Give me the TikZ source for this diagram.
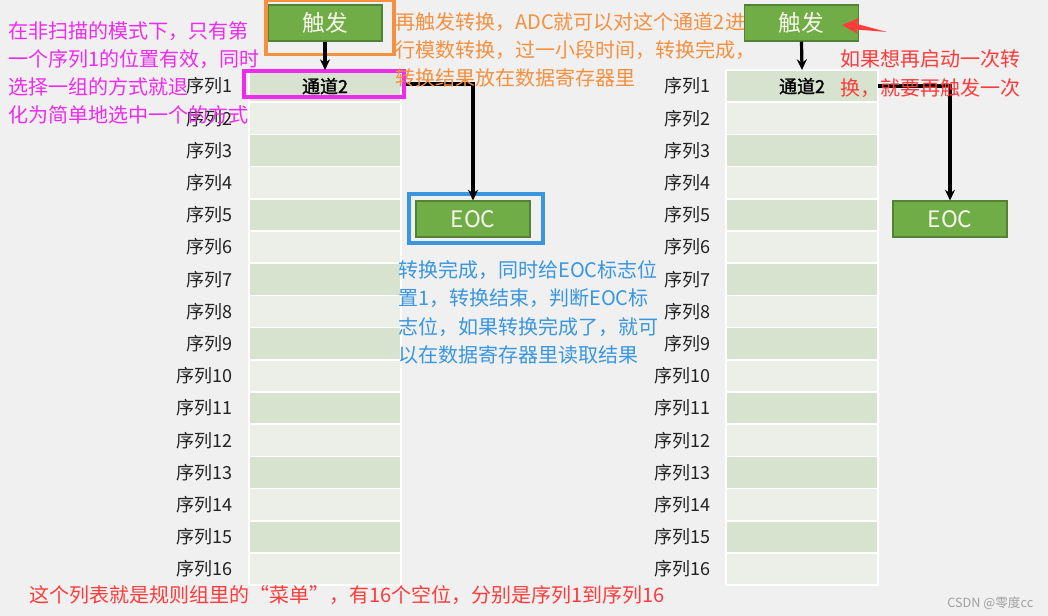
\documentclass[tikz,border=0pt]{standalone}
\usepackage{fontspec}
\setmainfont{Noto Sans CJK SC}[AutoFakeBold=1.5]
\usetikzlibrary{arrows.meta}
\definecolor{bg}{HTML}{F0F0F0}
\definecolor{rowD}{HTML}{D7E3CF}
\definecolor{rowL}{HTML}{EBEFE8}
\definecolor{gfill}{HTML}{70AD47}
\definecolor{gline}{HTML}{548235}
\definecolor{gtext}{HTML}{F7F7EC}
\definecolor{mag}{HTML}{EE2BEE}
\definecolor{orng}{HTML}{F5903F}
\definecolor{redc}{HTML}{FF3B3B}
\definecolor{blu}{HTML}{3A96DE}
\definecolor{lblc}{HTML}{222222}
\definecolor{wmark}{HTML}{A0A0A0}
\begin{document}
\begin{tikzpicture}[x=0.75pt,y=-0.75pt,
  cell/.style={draw=white, line width=1.1pt, minimum width=114pt, minimum height=24.15pt, inner sep=0pt, outer sep=0pt},
  lbl/.style={text=lblc, inner sep=0pt, font=\fontsize{13.5pt}{16pt}\selectfont},
  chan/.style={text=black, inner sep=0pt, font=\fontsize{13.5pt}{16pt}\selectfont\bfseries},
  gbox/.style={draw=gline, line width=0.8pt, fill=gfill, text=gtext, minimum height=27pt, inner sep=0pt},
  note/.style={inner sep=0pt, anchor=base west, font=\fontsize{15pt}{21pt}\selectfont},
  link/.style={color=black, line width=2.4pt, -{Stealth[length=8pt,width=7.5pt]}},
  frame/.style={line width=2.3pt, fill=none, inner sep=0pt}
]
\useasboundingbox[fill=bg] (0,0) rectangle (1048,616);

% tables
\foreach \i [evaluate=\i as \yy using 53.9+32.2*\i] in {1,...,16}{
  \ifodd\i\relax \def\rc{rowD}\else \def\rc{rowL}\fi
  \node[cell, fill=\rc] (L\i) at (325,\yy) {};
  \node[cell, fill=\rc] (R\i) at (802,\yy) {};
  \node[lbl, anchor=east] (lt\i) at (233,\yy) {序列\i};
  \node[lbl, anchor=east] (rt\i) at (711,\yy) {序列\i};
}
\node[chan] (chL) at (L1) {通道2};
\node[chan] (chR) at (R1) {通道2};

% trigger boxes
\node[gbox, minimum width=85.5pt, font=\fontsize{17pt}{20pt}\selectfont] (trigL) at (325,23) {触发};
\node[gbox, minimum width=85pt, font=\fontsize{17pt}{20pt}\selectfont] (trigR) at (801.5,23) {触发};
\node[frame, draw=orng, minimum width=96pt, minimum height=40pt] (ofr) at (330,27.5) {};

% EOC boxes
\node[gbox, minimum width=85.5pt, font=\fontsize{17pt}{20pt}\selectfont] (eocL) at (473,219) {EOC};
\node[gbox, minimum width=85.5pt, font=\fontsize{17pt}{20pt}\selectfont] (eocR) at (950,219) {EOC};
\node[frame, draw=blu, minimum width=100.5pt, minimum height=36.75pt] (bfr) at (476,218.5) {};

% highlight of row 1
\node[frame, draw=mag, minimum width=120pt, minimum height=19.5pt] (hl) at (324,84) {};

% connectors
\draw[link] (trigL.south) -- (L1.north);
\draw[link] (trigR.south) -- (R1.north);
\draw[link] (hl.east) -| (eocL.north);
\draw[link] (R1.east) -| (eocR.north);

% red pointer arrow
\fill[redc] (842,25) -- (859,18) -- (857,24) -- (887,32) -- (856,29.5) -- (858,34) -- cycle;

% magenta note
\node[note, text=mag] (m1) at (8,38.1) {在非扫描的模式下，只有第};
\node[note, text=mag] (m2) at (8,66.1) {一个序列1的位置有效，同时};
\node[note, text=mag] (m3) at (8,94.1) {选择一组的方式就退};
\node[note, text=mag] (m4) at (8,122.1) {化为简单地选中一个的方式};

% orange note
\node[note, text=orng] (o1) at (395,29.6) {再触发转换，ADC就可以对这个通道2进};
\node[note, text=orng] (o2) at (395,57.6) {行模数转换，过一小段时间，转换完成，};
\node[note, text=orng] (o3) at (395,85.6) {转换结果放在数据寄存器里};

% red note right
\node[note, text=redc] (r1) at (840,66.6) {如果想再启动一次转};
\node[note, text=redc] (r2) at (840,95.6) {换，就要再触发一次};

% blue note
\node[note, text=blu] (b1) at (398,277.6) {转换完成，同时给EOC标志位};
\node[note, text=blu] (b2) at (398,305.6) {置1，转换结束，判断EOC标};
\node[note, text=blu] (b3) at (398,334.6) {志位，如果转换完成了，就可};
\node[note, text=blu] (b4) at (398,362.6) {以在数据寄存器里读取结果};

% bottom note
\node[note, text=redc] (bt) at (29,602.6) {这个列表就是规则组里的“菜单”，有16个空位，分别是序列1到序列16};

% watermark
\node[inner sep=0pt, anchor=west, text=wmark, font=\fontsize{9.5pt}{10pt}\selectfont] (wm) at (947,603) {CSDN @零度cc};
\end{tikzpicture}
\end{document}
